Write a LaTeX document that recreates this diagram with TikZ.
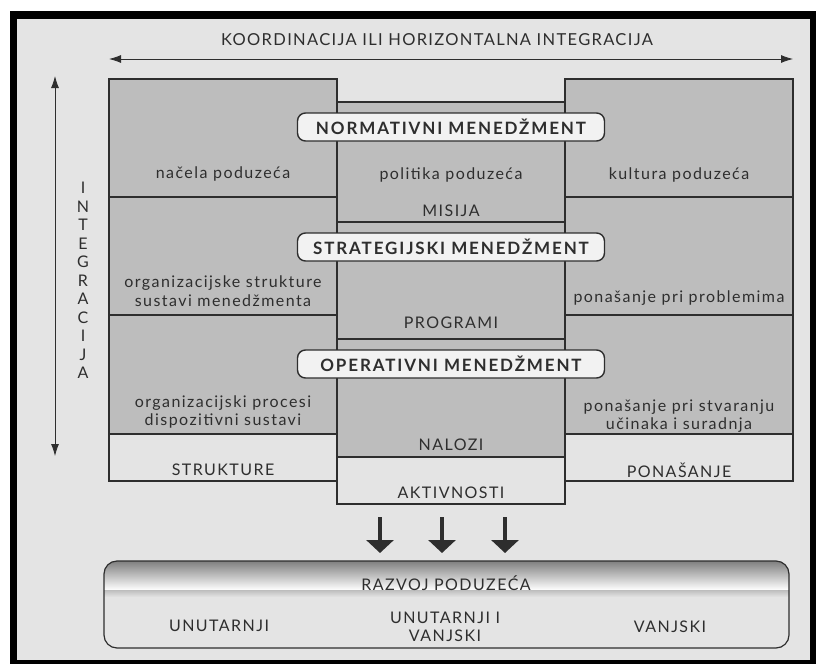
\documentclass[tikz,border=0pt]{standalone}
\usepackage{fontspec}
\setmainfont{Lato}
\usetikzlibrary{positioning,arrows.meta}
\definecolor{paper}{HTML}{E4E4E4}
\definecolor{shade}{HTML}{BDBDBD}
\definecolor{ink}{HTML}{2E2E2E}
\definecolor{boxfill}{HTML}{F2F2F2}

\begin{document}
\begin{tikzpicture}[x=1pt, y=-1pt, every node/.style={text=ink, align=center, inner sep=0pt, font=\fontsize{16}{18.5}\selectfont\addfontfeature{LetterSpace=9}}, sec/.style={draw=ink, line width=1.2pt, fill=shade}, low/.style={draw=ink, line width=1.2pt, fill=paper}, level/.style={draw=ink, line width=1.4pt, fill=boxfill, rounded corners=8pt, minimum width=307pt, minimum height=28pt, font=\bfseries\fontsize{17}{19}\selectfont\addfontfeature{LetterSpace=11}}, axis/.style={draw=ink, line width=0.8pt, {Latex[length=12pt,width=8pt]}-{Latex[length=12pt,width=8pt]}}, flow/.style={draw=ink, line width=4pt, -{Triangle[length=13pt,width=27pt]}}]
\useasboundingbox (0,0) rectangle (816,664);
\fill[black] (10,11) rectangle (816,664);
\fill[paper] (17,19) rectangle (810,660);
\node[font=\fontsize{16.5}{18}\selectfont\addfontfeature{LetterSpace=8}] (title) at (437,40) {KOORDINACIJA ILI HORIZONTALNA INTEGRACIJA};
\coordinate (hl) at (109,59);
\coordinate (hr) at (793,59);
\draw[axis] (hl) -- (hr);
\coordinate (vt) at (55,76);
\coordinate (vb) at (55,456);
\draw[axis] (vb) -- (vt);
\foreach \ch [count=\i] in {I,N,T,E,G,R,A,C,I,J,A}
  \node (int\i) at (83,{188+18.5*(\i-1)}) {\ch};
\draw[sec] (109,79) rectangle (337,197);
\draw[sec] (109,197) rectangle (337,315);
\draw[sec] (109,315) rectangle (337,434);
\draw[low] (109,434) rectangle (337,481);
\draw[sec] (565,79) rectangle (793,197);
\draw[sec] (565,197) rectangle (793,315);
\draw[sec] (565,315) rectangle (793,434);
\draw[low] (565,434) rectangle (793,481);
\draw[sec] (337,102) rectangle (565,222);
\draw[sec] (337,222) rectangle (565,339);
\draw[sec] (337,339) rectangle (565,457);
\draw[low] (337,457) rectangle (565,504);
\node[level] (norm) at (451,127) {NORMATIVNI MENEDŽMENT};
\node[level] (strat) at (451,247) {STRATEGIJSKI MENEDŽMENT};
\node[level] (oper) at (451,364) {OPERATIVNI MENEDŽMENT};
\node (nacela) at (223,174) {načela poduzeća};
\node (politika) at (451,175) {politika poduzeća};
\node (kultura) at (679,175) {kultura poduzeća};
\node (misija) at (451,211) {MISIJA};
\node (orgstr) at (223,291) {organizacijske strukture\\sustavi menedžmenta};
\node (problem) at (679,298) {ponašanje pri problemima};
\node (programi) at (451,323) {PROGRAMI};
\node (orgproc) at (223,412) {organizacijski procesi\\dispozitivni sustavi};
\node (stvar) at (679,416) {ponašanje pri stvaranju\\učinaka i suradnja};
\node (nalozi) at (451,445) {NALOZI};
\node (strukture) at (223,470) {STRUKTURE};
\node (ponasanje) at (679,470) {PONAŠANJE};
\node (aktiv) at (451,493) {AKTIVNOSTI};
\begin{scope}
\clip[rounded corners=13pt] (104,561) rectangle (789,648);
\fill[paper] (104,561) rectangle (789,648);
\fill[shade] (104,561) rectangle (789,590);
\shade[top color=shade, bottom color=paper] (104,590) rectangle (789,597);
\end{scope}
\draw[ink, line width=1.2pt, rounded corners=13pt] (104,561) rectangle (789,648);
\node (razvoj) at (446,583) {RAZVOJ PODUZEĆA};
\node (unut) at (219,626) {UNUTARNJI};
\node (oboje) at (445,627) {UNUTARNJI I\\VANJSKI};
\node (vanj) at (670,627) {VANJSKI};
\foreach \x [count=\i] in {380,442,505} {
  \coordinate (a\i) at (\x,517);
  \coordinate (b\i) at (\x,553);
  \draw[flow] (a\i) -- (b\i);
}
\end{tikzpicture}
\end{document}
